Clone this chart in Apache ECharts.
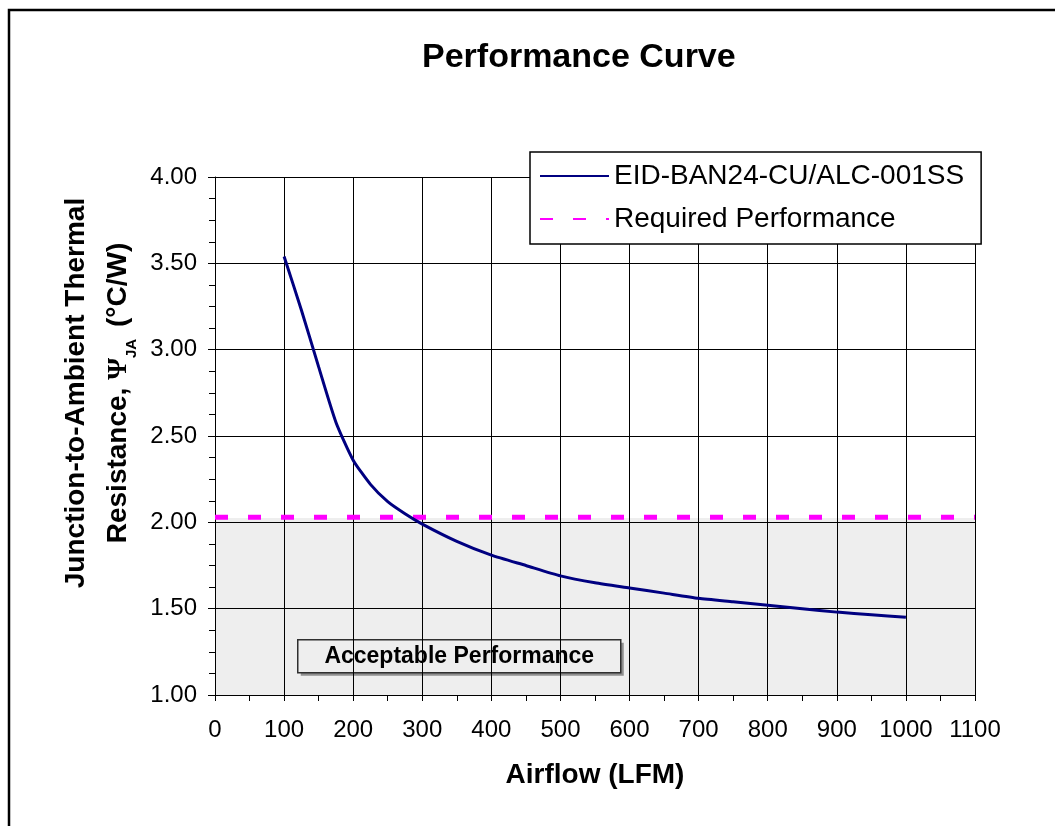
<!DOCTYPE html>
<html><head><meta charset="utf-8">
<script src="https://cdn.jsdelivr.net/npm/echarts@6/dist/echarts.min.js"></script>
<style>html,body{margin:0;padding:0;background:#fff;overflow:hidden}#c{width:1055px;height:826px}</style>
</head><body><div id="c"></div>
<script>
// Curve: EID-BAN24-CU/ALC-001SS
const airflow = [100,125,150,175,200,225,250,275,300,350,400,450,500,550,600,650,700,750,800,850,900,950,1000];
const resistance = [3.54,3.23,2.90,2.58,2.36,2.22,2.12,2.05,1.99,1.89,1.81,1.75,1.69,1.65,1.62,1.59,1.56,1.54,1.52,1.50,1.48,1.465,1.45];
// Required performance line
const requiredX = [0, 1100];
const requiredY = [2.03, 2.03];
const seriesNames = ['EID-BAN24-CU/ALC-001SS', 'Required Performance'];
const regionLabel = 'Acceptable Performance';

const chart = echarts.init(document.getElementById('c'));
const F = 'Arial, "Liberation Sans", sans-serif';
chart.setOption({
  animation: false,
  backgroundColor: '#fff',
  title: {
    text: 'Performance Curve', left: 417, top: 36,
    textStyle: {fontFamily: F, fontWeight: 'bold', fontSize: 34, color: '#000'}
  },
  legend: {
    orient: 'vertical', left: 530, top: 152,
    padding: [10, 17, 11, 9], itemGap: 15, itemWidth: 69, itemHeight: 14,
    backgroundColor: '#fff', borderColor: '#000', borderWidth: 1.5, borderRadius: 0,
    itemStyle: {opacity: 0, borderWidth: 0},
    textStyle: {fontFamily: F, fontSize: 28, color: '#000'},
    data: seriesNames
  },
  grid: {left: 215, right: 80, top: 177, bottom: 131, containLabel: false},
  xAxis: {
    type: 'value', min: 0, max: 1100, interval: 100,
    name: 'Airflow (LFM)', nameLocation: 'middle', nameGap: 66,
    nameTextStyle: {fontFamily: F, fontWeight: 'bold', fontSize: 28, color: '#000'},
    axisLine: {show: true, lineStyle: {color: '#000', width: 1}},
    axisTick: {show: true, inside: false, length: 6, lineStyle: {color: '#000'}},
    minorTick: {show: true, splitNumber: 2, length: 6, lineStyle: {color: '#000'}},
    splitLine: {show: true, lineStyle: {color: '#000', width: 1}},
    axisLabel: {fontFamily: F, fontSize: 24, color: '#000', margin: 23, formatter: v => String(v), showMaxLabel: true, showMinLabel: true, hideOverlap: false}
  },
  yAxis: {
    type: 'value', min: 1, max: 4, interval: 0.5,
    name: '{a|Junction-to-Ambient Thermal}\n{a|Resistance, }{p|Ψ}{s|JA}{a| (°C/W)}',
    nameLocation: 'middle', nameGap: 64, nameRotate: 90,
    nameTextStyle: {
      padding: [0, 0, 0, 86],
      rich: {
        a: {fontFamily: F, fontWeight: 'bold', fontSize: 28, color: '#000', lineHeight: 42},
        p: {fontFamily: '"Liberation Serif", "Times New Roman", serif', fontWeight: 'bold', fontSize: 28, color: '#000', lineHeight: 42},
        s: {fontFamily: F, fontWeight: 'bold', fontSize: 15, color: '#000', lineHeight: 42, verticalAlign: 'bottom', padding: [0, 4, 0, 0]}
      }
    },
    axisLine: {show: true, lineStyle: {color: '#000', width: 1}},
    axisTick: {show: true, inside: false, length: 7, lineStyle: {color: '#000'}},
    minorTick: {show: true, splitNumber: 4, length: 6, lineStyle: {color: '#000'}},
    splitLine: {show: true, lineStyle: {color: '#000', width: 1}},
    axisLabel: {fontFamily: F, fontSize: 24, color: '#000', margin: 18, formatter: v => v.toFixed(2), showMaxLabel: true, showMinLabel: true}
  },
  series: [
    {
      name: seriesNames[0], type: 'line', symbol: 'none', smooth: 0.2, z: 5,
      data: airflow.map((x, i) => [x, resistance[i]]),
      lineStyle: {color: '#000080', width: 3},
      itemStyle: {color: '#000080'}
    },
    {
      name: seriesNames[1], type: 'line', symbol: 'none', z: 4,
      data: requiredX.map((x, i) => [x, requiredY[i]]),
      lineStyle: {color: '#ff00ff', width: 5, type: [13, 20]},
      itemStyle: {color: '#ff00ff'},
      markArea: {
        silent: true,
        itemStyle: {color: 'rgba(0,0,0,0.065)'},
        data: [[{yAxis: 1}, {yAxis: requiredY[0] - 0.005}]]
      }
    }
  ],
  graphic: [
    {type: 'polyline', shape: {points: [[9, 1000], [9, 10], [1300, 10]]}, style: {fill: null, stroke: '#000', lineWidth: 2.5}, z: 100, silent: true},
    {type: 'group', left: 297, top: 639, z: 50, children: [
      {type: 'rect', shape: {x: 3, y: 3, width: 323, height: 33}, style: {fill: '#9a9a9a'}},
      {type: 'rect', shape: {x: 0, y: 0, width: 323, height: 33}, style: {fill: '#fff', stroke: '#333', lineWidth: 1.5}},
      {type: 'text', x: 161.5, y: 17, style: {text: regionLabel, fontFamily: F, fontWeight: 'bold', fontSize: 23, fill: '#000', align: 'center', verticalAlign: 'middle'}}
    ]}
  ]
});
</script></body></html>
